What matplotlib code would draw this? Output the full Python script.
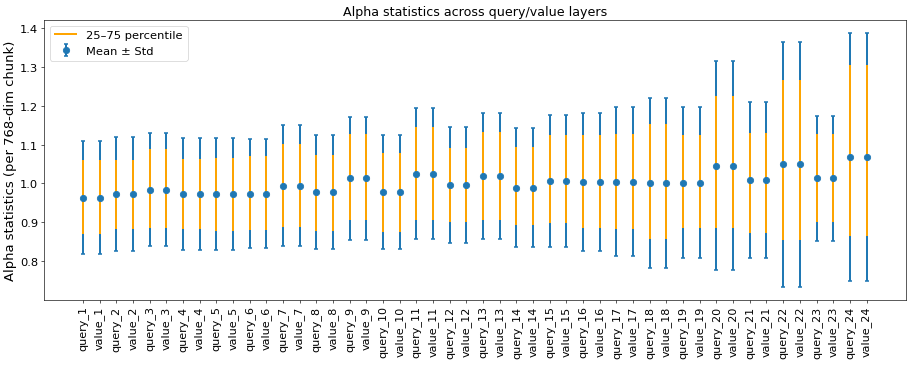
import numpy as np
import matplotlib.pyplot as plt

# layer labels
labels = ['query_1', 'value_1', 'query_2', 'value_2', 'query_3', 'value_3',
          'query_4', 'value_4', 'query_5', 'value_5', 'query_6', 'value_6',
          'query_7', 'value_7', 'query_8', 'value_8', 'query_9', 'value_9',
          'query_10', 'value_10', 'query_11', 'value_11', 'query_12', 'value_12',
          'query_13', 'value_13', 'query_14', 'value_14', 'query_15', 'value_15',
          'query_16', 'value_16', 'query_17', 'value_17', 'query_18', 'value_18',
          'query_19', 'value_19', 'query_20', 'value_20', 'query_21', 'value_21',
          'query_22', 'value_22', 'query_23', 'value_23', 'query_24', 'value_24']

means = [0.963, 0.963, 0.973, 0.973, 0.984, 0.984, 0.973, 0.973, 0.973, 0.973,
         0.973, 0.973, 0.994, 0.994, 0.978, 0.978, 1.013, 1.013, 0.978, 0.978,
         1.025, 1.025, 0.995, 0.995, 1.020, 1.020, 0.989, 0.989, 1.005, 1.005,
         1.003, 1.003, 1.004, 1.004, 1.000, 1.000, 1.002, 1.002, 1.045, 1.045,
         1.009, 1.009, 1.049, 1.049, 1.013, 1.013, 1.068, 1.068]

stds = [0.145, 0.145, 0.146, 0.146, 0.145, 0.145, 0.144, 0.144, 0.144, 0.144,
        0.140, 0.140, 0.156, 0.156, 0.146, 0.146, 0.158, 0.158, 0.147, 0.147,
        0.168, 0.168, 0.149, 0.149, 0.162, 0.162, 0.153, 0.153, 0.170, 0.170,
        0.177, 0.177, 0.192, 0.192, 0.219, 0.219, 0.195, 0.195, 0.269, 0.269,
        0.201, 0.201, 0.316, 0.316, 0.161, 0.161, 0.320, 0.320]

q25 = [0.869, 0.869, 0.883, 0.883, 0.885, 0.885, 0.883, 0.883, 0.878, 0.878,
       0.881, 0.881, 0.889, 0.889, 0.877, 0.877, 0.906, 0.906, 0.874, 0.874,
       0.907, 0.907, 0.900, 0.900, 0.906, 0.906, 0.893, 0.893, 0.898, 0.898,
       0.886, 0.886, 0.883, 0.883, 0.857, 0.857, 0.885, 0.885, 0.886, 0.886,
       0.873, 0.873, 0.855, 0.855, 0.901, 0.901, 0.864, 0.864]

q75 = [1.060, 1.060, 1.060, 1.060, 1.089, 1.089, 1.062, 1.062, 1.065, 1.065,
       1.070, 1.070, 1.102, 1.102, 1.073, 1.073, 1.126, 1.126, 1.077, 1.077,
       1.146, 1.146, 1.090, 1.090, 1.131, 1.131, 1.094, 1.094, 1.125, 1.125,
       1.125, 1.125, 1.126, 1.126, 1.152, 1.152, 1.125, 1.125, 1.224, 1.224,
       1.129, 1.129, 1.266, 1.266, 1.128, 1.128, 1.305, 1.305]

x = np.arange(len(labels))

fig, ax = plt.subplots(figsize=(16, 6.414), dpi=57.0625)

ax.errorbar(x, means, yerr=stds, fmt='o', color='tab:blue', markersize=8,
            elinewidth=2.5, capsize=3, capthick=2, label='Mean ± Std')
ax.vlines(x, q25, q75, color='orange', linewidth=2.5, label='25–75 percentile')

ax.set_xticks(x)
ax.set_xticklabels(labels, rotation=90, fontsize=14)
ax.tick_params(axis='y', labelsize=14.5)
ax.set_ylabel('Alpha statistics (per 768-dim chunk)', fontsize=16.5)
ax.set_title('Alpha statistics across query/value layers', fontsize=16)
ax.legend(loc='upper left', fontsize=14.5)

plt.subplots_adjust(left=0.048, right=0.992, top=0.943, bottom=0.178)
plt.savefig('out.png', dpi=57.0625)
